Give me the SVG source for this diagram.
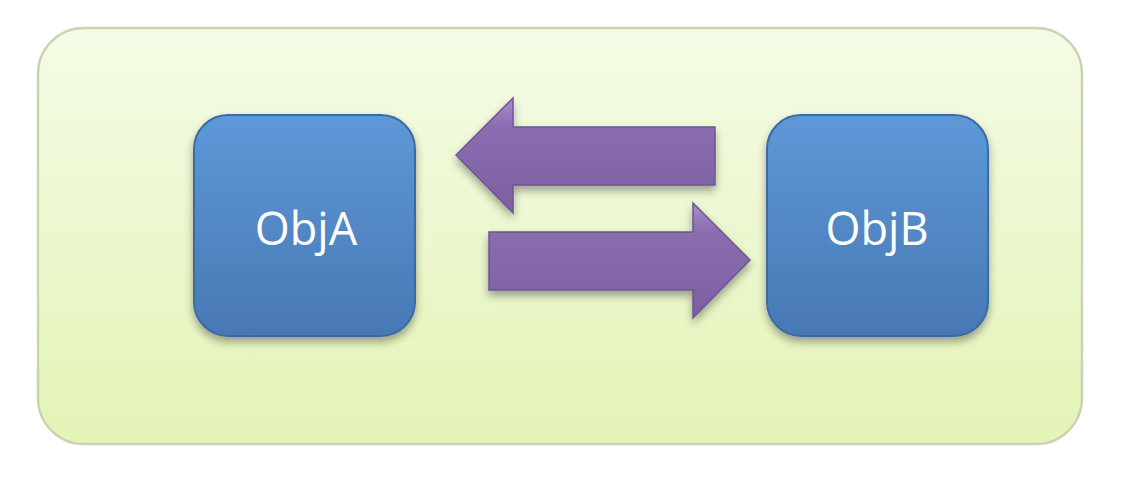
<svg xmlns="http://www.w3.org/2000/svg" width="1132" height="484" viewBox="0 0 1132 484">
<defs>
<linearGradient id="bgGrad" x1="0" y1="0" x2="0" y2="1">
<stop offset="0" stop-color="#f4fbe6"/>
<stop offset="1" stop-color="#e3f4b6"/>
</linearGradient>
<linearGradient id="boxGrad" x1="0" y1="0" x2="0" y2="1">
<stop offset="0" stop-color="#5d98d8"/>
<stop offset="1" stop-color="#4878b4"/>
</linearGradient>
<linearGradient id="arrGrad" x1="0" y1="0" x2="0" y2="1">
<stop offset="0" stop-color="#a88ccd"/>
<stop offset="0.25" stop-color="#8a6db0"/>
<stop offset="1" stop-color="#7c5fa3"/>
</linearGradient>
<filter id="shadow" x="-20%" y="-20%" width="140%" height="150%">
<feGaussianBlur in="SourceAlpha" stdDeviation="4"/>
<feOffset dx="0" dy="5" result="b"/>
<feComponentTransfer><feFuncA type="linear" slope="0.35"/></feComponentTransfer>
<feMerge><feMergeNode/><feMergeNode in="SourceGraphic"/></feMerge>
</filter>
</defs>
<style>
.node rect{fill:url(#boxGrad);stroke:#3e6ba6;stroke-width:2;filter:url(#shadow)}
.label{font-family:"Open Sans","Liberation Sans",sans-serif;font-size:45px;fill:#ffffff;text-anchor:middle}
.arrow{fill:url(#arrGrad);stroke:#6f5494;stroke-width:1.5;filter:url(#shadow)}
</style>
<rect x="0" y="0" width="1132" height="484" fill="#ffffff"/>
<g id="container">
<rect x="38" y="28" width="1044" height="416" rx="46" ry="46" fill="url(#bgGrad)" stroke="#c9d2b3" stroke-width="2.5"/>
</g>
<g id="connectors">
<path class="arrow" d="M456,155 L513,98 L513,127 L715,127 L715,185 L513,185 L513,213 Z"/>
<path class="arrow" d="M750,260 L693,203 L693,232 L489,232 L489,290 L693,290 L693,318 Z"/>
</g>
<g id="objA" class="node">
<rect x="194" y="115" width="221" height="221" rx="34" ry="34"/>
<text class="label" x="306" y="245">ObjA</text>
</g>
<g id="objB" class="node">
<rect x="767" y="115" width="221" height="221" rx="34" ry="34"/>
<text class="label" x="877" y="245">ObjB</text>
</g>
</svg>
